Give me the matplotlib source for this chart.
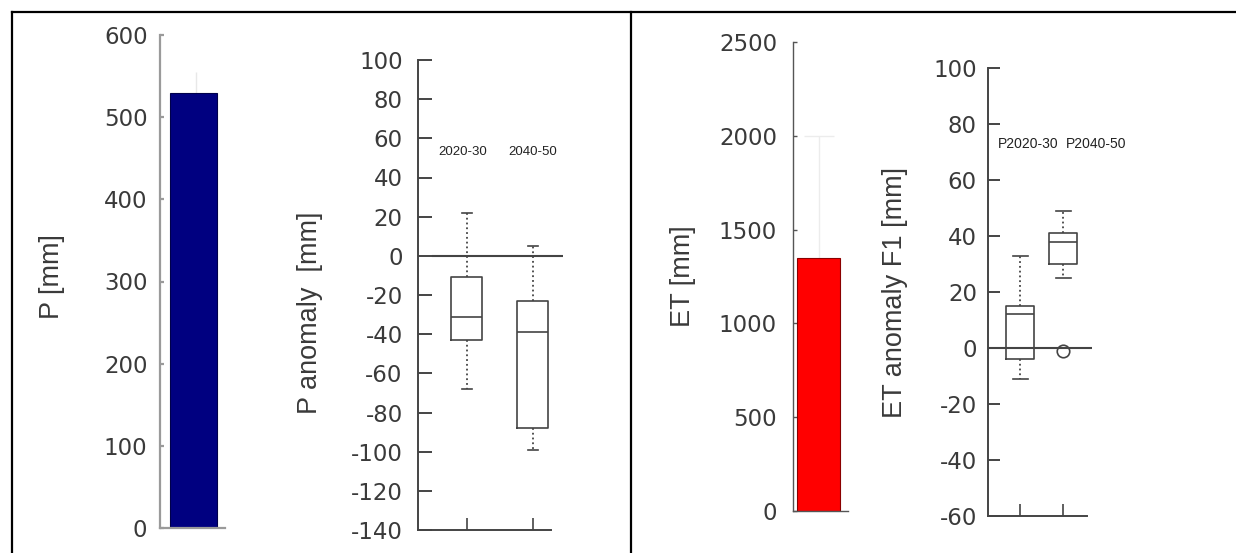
import matplotlib.pyplot as plt
from matplotlib.lines import Line2D

# Datos
p_media = 530
p_error = 25
et_media = 1350
et_error = 650

p_periodos = ["2020-30", "2040-50"]
p_whislo = [-68, -99]
p_q1 = [-43, -88]
p_med = [-31, -39]
p_q3 = [-11, -23]
p_whishi = [22, 5]

et_periodos = ["P2020-30", "P2040-50"]
et_whislo = [-11, 25]
et_q1 = [-4, 30]
et_med = [12, 38]
et_q3 = [15, 41]
et_whishi = [33, 49]
et_fliers = [[], [-1]]

plt.rcParams['axes.unicode_minus'] = False

W, H = 1236, 553
fig = plt.figure(figsize=(W / 100, H / 100), dpi=100)

gris = '#3a3a3a'
fuente_ticks = 'DejaVu Sans'
fuente_lab = 'Liberation Sans'


def ejes(izq, arriba, der, abajo):
    # ejes ubicados en pixeles de la figura
    return fig.add_axes([izq / W, 1 - abajo / H, (der - izq) / W, (abajo - arriba) / H])


def estilo(ax, color_spine, lw_spine, pad, largo):
    for s in ['top', 'right']:
        ax.spines[s].set_visible(False)
    for s in ['left', 'bottom']:
        ax.spines[s].set_color(color_spine)
        ax.spines[s].set_linewidth(lw_spine)
    ax.tick_params(axis='y', direction='in', length=largo, width=lw_spine, color=color_spine,
                   pad=pad, labelsize=16.5, labelcolor=gris)
    for t in ax.get_yticklabels():
        t.set_family(fuente_ticks)


def cajas(ax, whislo, q1, med, q3, whishi, fliers, ancho, cap):
    stats = []
    for i in range(len(med)):
        stats.append(dict(med=med[i], q1=q1[i], q3=q3[i], whislo=whislo[i],
                          whishi=whishi[i], fliers=fliers[i]))
    lp = dict(color='#444444', linewidth=1.2)
    ax.bxp(stats, positions=[1, 2], widths=ancho, capwidths=cap, showfliers=True,
           boxprops=lp, medianprops=lp, capprops=lp,
           whiskerprops=dict(color='#444444', linewidth=1.3, linestyle=':'),
           flierprops=dict(marker='o', markerfacecolor='none', markeredgecolor='#444444',
                           markersize=9, markeredgewidth=1.2),
           manage_ticks=False)


# Panel 1: P media
ax1 = ejes(160, 35, 225, 528)
ax1.errorbar(0.05, p_media, yerr=p_error, color='#e8e8e8', lw=1, zorder=1)
ax1.bar(0.02, p_media, width=0.72, color='#000080', edgecolor='#00004a', lw=0.8, zorder=2)
ax1.set_xlim(-0.5, 0.5)
ax1.set_ylim(0, 600)
ax1.set_yticks(range(0, 601, 100))
ax1.set_xticks([])
estilo(ax1, '#9a9a9a', 1.6, 9, 3)

# Panel 2: anomalia de P
ax2 = ejes(418, 60, 563, 530)
ax2.axhline(0, xmin=0.1, xmax=1, color='#444444', lw=1.5, zorder=1)
cajas(ax2, p_whislo, p_q1, p_med, p_q3, p_whishi, [[], []], 0.47, 0.15)
ax2.set_xlim(0.258, 2.455)
ax2.set_ylim(-140, 100)
ax2.set_yticks(range(-140, 101, 20))
ax2.set_xticks([1, 2])
ax2.set_xticklabels([])
estilo(ax2, '#444444', 1.4, 11, 10)
ax2.tick_params(axis='x', direction='in', length=9, width=1.2, color='#444444')
ax2.spines['bottom'].set_bounds(0.258, 2.27)
for x, txt in zip([0.94, 2.0], p_periodos):
    ax2.text(x, 53, txt, ha='center', va='center', fontsize=9.5, family=fuente_lab,
             color='#222222')

# Panel 3: ET media
ax3 = ejes(793, 42, 848, 511)
ax3.errorbar(0.02, et_media, yerr=et_error, color='#ececec', lw=1, capsize=11, zorder=1)
ax3.bar(0.0, et_media, width=0.78, color='#ff0000', edgecolor='#8a0000', lw=0.8, zorder=2)
ax3.set_xlim(-0.46, 0.54)
ax3.set_ylim(0, 2500)
ax3.set_yticks(range(0, 2501, 500))
ax3.set_xticks([])
estilo(ax3, '#555555', 1.0, 11.5, 3)

# Panel 4: anomalia de ET
ax4 = ejes(988, 68, 1092, 516)
ax4.axhline(0, color='#444444', lw=1.5, zorder=1)
cajas(ax4, et_whislo, et_q1, et_med, et_q3, et_whishi, et_fliers, 0.65, 0.35)
ax4.set_xlim(0.256, 2.67)
ax4.set_ylim(-60, 100)
ax4.set_yticks(range(-60, 101, 20))
ax4.set_xticks([1, 2])
ax4.set_xticklabels([])
estilo(ax4, '#444444', 1.4, 8, 8.5)
ax4.tick_params(axis='x', direction='in', length=9, width=1.2, color='#444444')
ax4.spines['bottom'].set_bounds(0.256, 2.56)
for x, txt in zip([1.19, 2.77], et_periodos):
    ax4.text(x, 73, txt, ha='center', va='center', fontsize=10, family=fuente_lab,
             color='#222222', clip_on=False)

# Etiquetas de los ejes y
for x, y, txt in [(52, 277, 'P [mm]'), (310, 313, 'P anomaly  [mm]'),
                  (683, 276, 'ET [mm]'), (895, 293, 'ET anomaly F1 [mm]')]:
    fig.text(x / W, 1 - y / H, txt, rotation=90, ha='center', va='center',
             fontsize=19.5, family=fuente_lab, color=gris)

# Marco de la tabla
fig.add_artist(Line2D([12 / W, 1], [1 - 12 / H, 1 - 12 / H], color='black', lw=1.6))
fig.add_artist(Line2D([12 / W, 12 / W], [0, 1 - 12 / H], color='black', lw=1.6))
fig.add_artist(Line2D([631 / W, 631 / W], [0, 1 - 12 / H], color='black', lw=1.6))

plt.savefig('out.png', dpi=100)
